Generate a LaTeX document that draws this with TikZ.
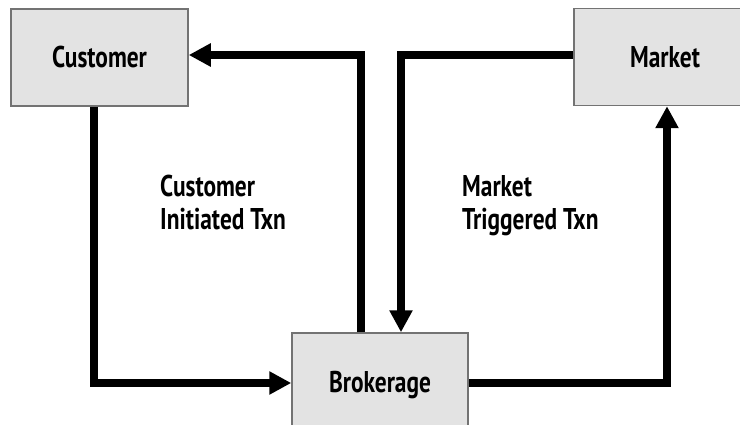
\documentclass[tikz,border=0pt]{standalone}
\usepackage{fontspec}
\newfontfamily\lblfont{PT Sans}[FakeStretch=0.78]
\usetikzlibrary{arrows.meta,calc}
\begin{document}
\begin{tikzpicture}[x=1pt,y=-1pt,
  box/.style={draw=black!55,line width=1.5pt,fill=black!11,minimum width=#1,minimum height=97pt,inner sep=0pt,font=\lblfont\bfseries\fontsize{30}{33}\selectfont},
  conn/.style={line width=8pt,line join=miter,-{Triangle[length=22pt,width=22pt]}},
  lbl/.style={font=\lblfont\bfseries\fontsize{30}{33}\selectfont,align=left,inner sep=0pt}]
\useasboundingbox (0,0) rectangle (740,425);
\node[box=177pt] (cust) at (99.5,57.5) {Customer};
\node[box=182pt] (mkt) at (665,57) {Market};
\node[box=176pt,minimum height=104pt] (brok) at (380,385) {Brokerage};
\draw[conn] ([xshift=-19pt]brok.north) |- ([yshift=2.5pt]cust.east);
\draw[conn] ([yshift=2pt]mkt.west) -| ([xshift=21pt]brok.north);
\draw[conn] ([xshift=-5.5pt]cust.south) |- ([yshift=2pt]brok.west);
\draw[conn] ([yshift=2pt]brok.east) -| ([xshift=2pt]mkt.south);
\node[lbl,anchor=base west] (clbl) at (160,230) {Customer\\Initiated Txn};
\node[lbl,anchor=base west] (mlbl) at (462,230) {Market\\Triggered Txn};
\end{tikzpicture}
\end{document}
